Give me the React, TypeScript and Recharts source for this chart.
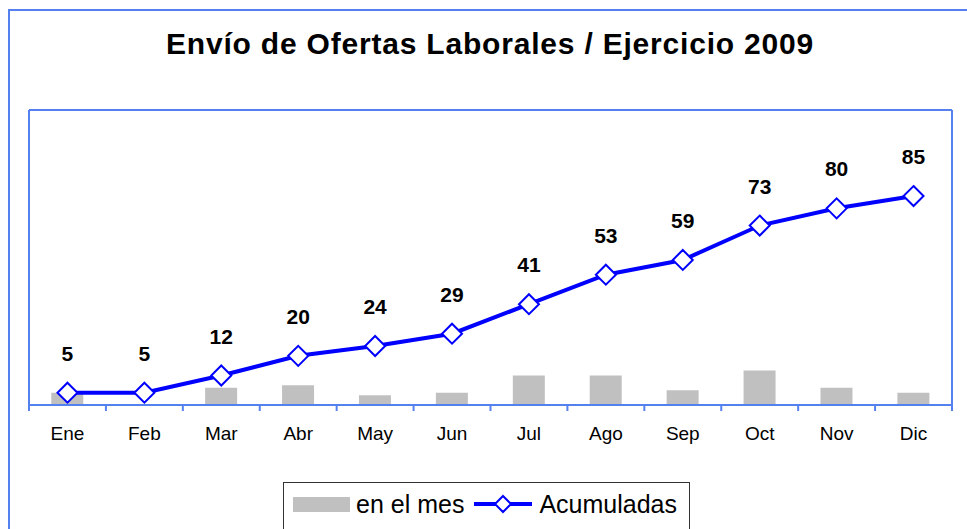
import React from "react";
import {
  ComposedChart,
  Bar,
  Line,
  XAxis,
  YAxis,
  LabelList,
} from "recharts";

const months = ["Ene", "Feb", "Mar", "Abr", "May", "Jun", "Jul", "Ago", "Sep", "Oct", "Nov", "Dic"];
const enElMes = [5, 0, 7, 8, 4, 5, 12, 12, 6, 14, 7, 5];
const acumuladas = [5, 5, 12, 20, 24, 29, 41, 53, 59, 73, 80, 85];

const data = months.map((m, i) => ({
  month: m,
  mes: enElMes[i],
  acum: acumuladas[i],
}));

const BLUE = "#0000FF";
const FRAME = "#5580F0";
const FONT = "'Liberation Sans', Arial, sans-serif";
const TICK_GAP = 22;

const Diamond = (props: any) => {
  const { cx, cy } = props;
  if (cx == null || cy == null) return null;
  const r = 10;
  return (
    <path
      d={`M${cx},${cy - r}L${cx + r},${cy}L${cx},${cy + r}L${cx - r},${cy}Z`}
      fill="#fff"
      stroke={BLUE}
      strokeWidth={2}
    />
  );
};

// month label plus tick marks on the category boundaries
const MonthTick = (props: any) => {
  const { x, y, payload, index, visibleTicksCount } = props;
  const half = payload.offset || 0;
  const axisY = y - TICK_GAP;
  const isLast = index === (visibleTicksCount ?? months.length) - 1;
  return (
    <g>
      <line x1={x - half} x2={x - half} y1={axisY} y2={axisY + 6} stroke={FRAME} strokeWidth={2} />
      {isLast && (
        <line x1={x + half} x2={x + half} y1={axisY} y2={axisY + 6} stroke={FRAME} strokeWidth={2} />
      )}
      <text x={x} y={y} dy="0.71em" textAnchor="middle" fill="#000" fontSize={19} fontFamily={FONT}>
        {payload.value}
      </text>
    </g>
  );
};

export default function App() {
  return (
    <div
      style={{
        position: "absolute",
        left: 0,
        top: 0,
        width: 967,
        height: 529,
        overflow: "hidden",
        background: "#fff",
        fontFamily: FONT,
      }}
    >
      <div
        style={{
          position: "absolute",
          left: 8,
          top: 9,
          width: 1000,
          height: 600,
          borderLeft: `2px solid ${FRAME}`,
          borderTop: `2px solid ${FRAME}`,
        }}
      />
      <div
        style={{
          position: "absolute",
          left: 0,
          width: 980,
          top: 27,
          textAlign: "center",
          fontWeight: "bold",
          fontSize: 30,
          letterSpacing: 0.8,
          color: "#000",
        }}
      >
        Envío de Ofertas Laborales / Ejercicio 2009
      </div>

      <div style={{ position: "absolute", left: 0, top: 0 }}>
        <ComposedChart
          width={967}
          height={529}
          data={data}
          margin={{ top: 109, right: 14, left: 28, bottom: 94 }}
          barCategoryGap="29%"
        >
          <XAxis
            xAxisId="cat"
            dataKey="month"
            axisLine={{ stroke: FRAME, strokeWidth: 2 }}
            tickLine={false}
            tickSize={0}
            tickMargin={TICK_GAP}
            height={30}
            interval={0}
            tick={<MonthTick />}
          />
          <XAxis
            xAxisId="top"
            dataKey="month"
            orientation="top"
            height={1}
            tick={false}
            tickLine={false}
            axisLine={{ stroke: FRAME, strokeWidth: 2 }}
          />
          <YAxis
            yAxisId="v"
            domain={[0, 120]}
            width={1}
            tick={false}
            tickLine={false}
            axisLine={{ stroke: FRAME, strokeWidth: 2 }}
          />
          <YAxis
            yAxisId="r"
            orientation="right"
            domain={[0, 1]}
            width={1}
            tick={false}
            tickLine={false}
            axisLine={{ stroke: FRAME, strokeWidth: 2 }}
          />
          <Bar
            xAxisId="cat"
            yAxisId="v"
            dataKey="mes"
            name="en el mes"
            fill="#C0C0C0"
            isAnimationActive={false}
          />
          <Line
            xAxisId="cat"
            yAxisId="v"
            dataKey="acum"
            name="Acumuladas"
            stroke={BLUE}
            strokeWidth={4}
            dot={<Diamond />}
            activeDot={false}
            isAnimationActive={false}
          >
            <LabelList
              dataKey="acum"
              position="top"
              offset={32}
              fill="#000"
              fontSize={21}
              fontWeight="bold"
              fontFamily={FONT}
            />
          </Line>
        </ComposedChart>
      </div>

      <div
        style={{
          position: "absolute",
          left: 283,
          top: 482,
          width: 407,
          height: 50,
          border: "1.5px solid #333",
          boxSizing: "border-box",
          display: "flex",
          alignItems: "center",
          paddingLeft: 9,
          paddingBottom: 6,
          fontSize: 25,
          color: "#000",
        }}
      >
        <span style={{ display: "inline-block", width: 57, height: 15, background: "#C0C0C0", marginRight: 6 }} />
        <span>en el mes</span>
        <svg width={60} height={20} style={{ marginLeft: 10, marginRight: 5 }}>
          <line x1={0} y1={10} x2={58} y2={10} stroke={BLUE} strokeWidth={4} />
          <path d="M29,2L37,10L29,18L21,10Z" fill="#fff" stroke={BLUE} strokeWidth={2} />
        </svg>
        <span>Acumuladas</span>
      </div>
    </div>
  );
}
